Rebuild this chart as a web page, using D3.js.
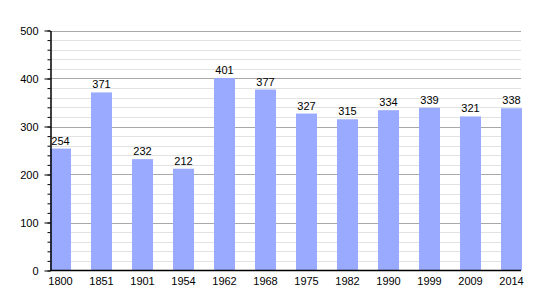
<!DOCTYPE html>
<html><head><meta charset="utf-8">
<script src="https://cdn.jsdelivr.net/npm/d3@7"></script>
<style>body{margin:0;background:#fff}svg{display:block}</style>
</head><body>
<svg id="c" width="550" height="300"></svg>
<script>
const years = ["1800","1851","1901","1954","1962","1968","1975","1982","1990","1999","2009","2014"];
const population = [254,371,232,212,401,377,327,315,334,339,321,338];
const majorTicks = [0,100,200,300,400,500];
const minorTicks = d3.range(0, 501, 20);

const svg = d3.select("#c");
const font = "Liberation Sans, Arial, sans-serif";
const x = d3.scaleBand().domain(years).range([50, 522]).paddingInner(20/41).paddingOuter(0);
const y = d3.scaleLinear().domain([0, 500]).range([270.5, 30.5]);

// minor grid
svg.append("g").selectAll("line").data(minorTicks.filter(d => d % 100 !== 0)).join("line")
  .attr("x1", 50).attr("x2", 521).attr("y1", d => Math.round(y(d)) + 0.5).attr("y2", d => Math.round(y(d)) + 0.5)
  .attr("stroke", "#e2e2e2").attr("stroke-width", 1);
// major grid
svg.append("g").selectAll("line").data(majorTicks.filter(d => d > 0)).join("line")
  .attr("x1", 50).attr("x2", 521).attr("y1", d => Math.round(y(d)) + 0.5).attr("y2", d => Math.round(y(d)) + 0.5)
  .attr("stroke", "#a8a8a8").attr("stroke-width", 1);

// bars
svg.append("g").selectAll("rect").data(years).join("rect")
  .attr("x", d => x(d)).attr("width", x.bandwidth())
  .attr("y", (d, i) => y(population[i])).attr("height", (d, i) => y(0) - y(population[i]))
  .attr("fill", "#99aaff");

// value labels
svg.append("g").selectAll("text").data(years).join("text")
  .attr("x", d => x(d) + x.bandwidth() / 2).attr("y", (d, i) => y(population[i]) - 4)
  .attr("text-anchor", "middle").attr("font-family", font).attr("font-size", 11).attr("fill", "#000")
  .text((d, i) => population[i]);

// y axis minor ticks
const yMinor = d3.axisLeft(y).tickValues(minorTicks).tickSize(3).tickFormat("");
svg.append("g").attr("transform", "translate(50.5,0)").call(yMinor)
  .call(g => g.select(".domain").remove())
  .call(g => g.selectAll("line").attr("stroke", "#000"));
// y axis major
const yAxis = d3.axisLeft(y).tickValues(majorTicks).tickSize(6).tickPadding(6).tickSizeOuter(0);
svg.append("g").attr("transform", "translate(50.5,0)").call(yAxis)
  .call(g => g.select(".domain").attr("stroke", "#000").attr("stroke-width", 1.5))
  .call(g => g.selectAll("text").attr("font-family", font).attr("font-size", 11).attr("fill", "#000"));

// x axis
const xAxis = d3.axisBottom(x).tickSize(0).tickPadding(7).tickSizeOuter(0);
svg.append("g").attr("transform", "translate(0,270.5)").call(xAxis)
  .call(g => g.select(".domain").attr("d", "M50,0H521").attr("stroke", "#000").attr("stroke-width", 1.5))
  .call(g => g.selectAll("text").attr("font-family", font).attr("font-size", 11).attr("fill", "#000"));
</script>
</body></html>
